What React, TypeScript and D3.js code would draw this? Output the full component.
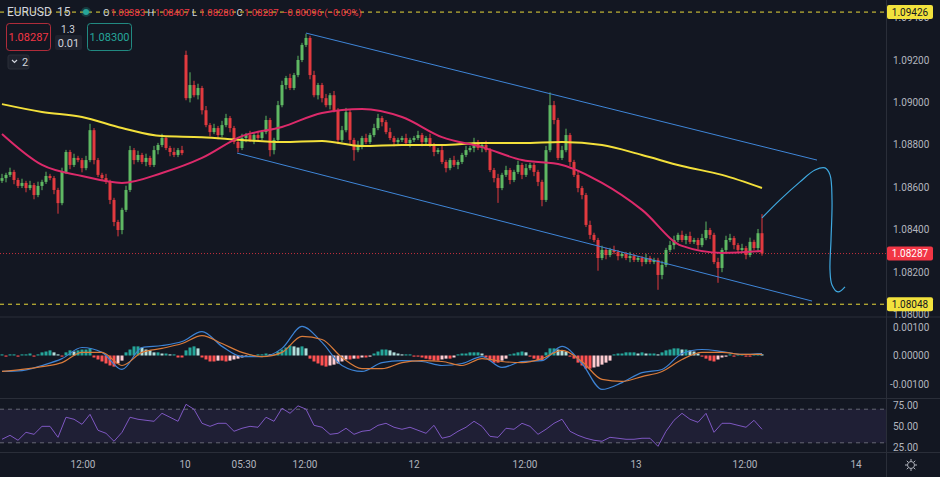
import { useEffect } from 'react'
import * as d3 from 'd3'

const W = 940
const H = 477
const PLOT_R = 886
const FONT = 'Roboto, "Liberation Sans", sans-serif'

// 15m EURUSD candles, one entry per bar (open = previous close unless a gap)
const CLOSE = [
  1.08643, 1.08658, 1.08672, 1.08634, 1.08606, 1.0862, 1.08596, 1.0861, 1.08563, 1.08606,
  1.08625, 1.08653, 1.08643, 1.08587, 1.08525, 1.08672, 1.08766, 1.08705, 1.08738, 1.08728,
  1.0869, 1.08728, 1.08869, 1.08728, 1.08658, 1.08643, 1.08625, 1.0854, 1.08436, 1.08398,
  1.08493, 1.08587, 1.08775, 1.08728, 1.08752, 1.08719, 1.08738, 1.08705, 1.08775, 1.08799,
  1.08832, 1.08785, 1.08766, 1.08752, 1.08775, 1.08761, 1.0902, 1.09082, 1.09034, 1.09068,
  1.08963, 1.08893, 1.0886, 1.08879, 1.08846, 1.08893, 1.08926, 1.08879, 1.08813, 1.08785,
  1.08832, 1.08846, 1.08823, 1.08846, 1.08832, 1.0886, 1.08917, 1.08775, 1.08823, 1.08987,
  1.09082, 1.09115, 1.09068, 1.09129, 1.092, 1.09271, 1.09304, 1.09129, 1.09034, 1.09082,
  1.0902, 1.08987, 1.09034, 1.08963, 1.08823, 1.08869, 1.08954, 1.08823, 1.08775, 1.08799,
  1.08832, 1.08813, 1.08846, 1.08879, 1.08926, 1.08907, 1.0886, 1.08832, 1.08813, 1.08823,
  1.08832, 1.08808, 1.08823, 1.08832, 1.08846, 1.08813, 1.08832, 1.08799, 1.08766, 1.08775,
  1.08719, 1.0869, 1.08728, 1.08705, 1.08719, 1.08752, 1.08775, 1.08785, 1.08813, 1.08785,
  1.08799, 1.08775, 1.08681, 1.08643, 1.08596, 1.08658, 1.08681, 1.08634, 1.08672, 1.08705,
  1.08658, 1.0869, 1.08705, 1.08672, 1.08625, 1.0854, 1.08775, 1.08987, 1.08917, 1.08738,
  1.08775, 1.08846, 1.08719, 1.08658, 1.08596, 1.08563, 1.08422, 1.08375, 1.08351, 1.08266,
  1.08304, 1.0828, 1.08304, 1.08294, 1.08275, 1.08285, 1.08266, 1.08275, 1.08257, 1.08266,
  1.08247, 1.08266, 1.08247, 1.08257, 1.08186, 1.08233, 1.08304, 1.08327, 1.08351, 1.08375,
  1.08351, 1.0837, 1.08342, 1.08351, 1.08327, 1.0836, 1.08398, 1.08375, 1.08247, 1.08219,
  1.08304, 1.08351, 1.0836, 1.08327, 1.08304, 1.08313, 1.0828, 1.08342, 1.08313, 1.08383,
  1.08287,
]
const FIRST_OPEN = 1.0863
const OPEN_GAP: Record<number, number> = { 46: 1.09224 }
// wick length beyond the body, in pips
const WICK_UP = [
  2, 1, 2, 1, 1, 2, 1, 2, 1, 2, 1, 2, 1, 1, 1, 2, 1, 1, 2, 1,
  1, 2, 3, 1, 1, 1, 2, 1, 1, 1, 1, 2, 2, 1, 2, 1, 2, 1, 2, 1,
  2, 1, 1, 2, 1, 2, 2, 6, 2, 2, 1, 2, 1, 2, 1, 2, 2, 1, 1, 1,
  2, 1, 2, 1, 2, 1, 2, 1, 1, 2, 2, 1, 2, 1, 2, 1, 2, 1, 2, 1,
  1, 2, 1, 2, 1, 2, 2, 1, 1, 2, 1, 2, 1, 2, 2, 1, 1, 2, 1, 1,
  1, 2, 1, 1, 2, 1, 1, 2, 1, 1, 2, 1, 1, 2, 1, 1, 2, 1, 2, 1,
  1, 2, 1, 1, 2, 1, 2, 1, 1, 2, 1, 2, 1, 1, 1, 1, 2, 6, 2, 1,
  2, 3, 1, 1, 2, 1, 1, 2, 1, 1, 2, 1, 1, 2, 1, 1, 1, 2, 1, 1,
  1, 2, 1, 1, 1, 2, 1, 2, 2, 1, 2, 1, 2, 1, 1, 2, 4, 1, 1, 2,
  1, 2, 2, 1, 1, 2, 1, 2, 1, 2, 9,
]
const WICK_DN = [
  1, 2, 1, 2, 1, 1, 2, 1, 2, 1, 2, 1, 1, 2, 5, 1, 1, 2, 1, 1,
  2, 1, 1, 2, 1, 1, 1, 2, 2, 3, 2, 1, 1, 2, 1, 1, 2, 1, 1, 2,
  1, 1, 2, 1, 1, 1, 1, 2, 1, 2, 2, 1, 2, 1, 2, 1, 1, 2, 1, 2,
  1, 2, 1, 2, 1, 1, 1, 3, 2, 1, 1, 2, 1, 1, 1, 1, 1, 2, 1, 2,
  2, 1, 2, 1, 2, 1, 1, 2, 5, 1, 2, 1, 1, 1, 1, 2, 1, 1, 2, 1,
  1, 1, 2, 1, 1, 2, 1, 1, 2, 1, 1, 2, 1, 1, 2, 1, 1, 1, 2, 1,
  2, 1, 1, 2, 7, 1, 1, 2, 1, 1, 2, 1, 1, 2, 2, 3, 1, 1, 2, 1,
  1, 1, 2, 1, 2, 2, 1, 2, 1, 6, 1, 2, 1, 1, 2, 1, 1, 2, 1, 1,
  2, 1, 1, 1, 7, 2, 1, 1, 2, 1, 1, 2, 1, 1, 2, 1, 1, 2, 1, 7,
  2, 1, 1, 2, 1, 1, 2, 1, 1, 2, 1,
]

// moving averages, one value every 10 bars
const MA_SLOW = [
  1.08992, 1.08955, 1.08931, 1.08879, 1.08841, 1.08836, 1.08823, 1.08813, 1.08818, 1.08794,
  1.08799, 1.08799, 1.08808, 1.08808, 1.08813, 1.08799, 1.08752, 1.087, 1.08658, 1.08596,
]
const MA_FAST = [
  1.08851, 1.08705, 1.08653, 1.0862, 1.08667, 1.08738, 1.08841, 1.08884, 1.0895, 1.08969,
  1.08931, 1.08836, 1.08789, 1.08728, 1.08705, 1.0862, 1.08493, 1.08323, 1.0829, 1.08299,
]

// MACD lines, one value every 5 bars
const MACD_LINE = [
  -0.00056, -0.00053, -0.00035, -0.00011, 0.00028, 0.00011, -0.00049, 0.00028, 0.00035, 0.00049,
  0.00084, 0.00032, -0.00004, -0.00004, 0.00025, 0.00102, 0.00046, -0.00035, -0.00056, -0.00025,
  -0.00018, -0.00021, -0.00035, -0.00028, -0.00004, -0.00042, -0.00021, -0.00018, 0.00032, -0.00028,
  -0.00119, -0.00095, -0.0006, -0.00049, 0.00007, 0.00021, 0.00014, 0.00004, 0.00007,
]
const MACD_SIGNAL = [
  -0.00056, -0.00049, -0.00039, -0.00025, 0.00011, 0.00011, -0.00035, 0.00011, 0.00025, 0.00042,
  0.0007, 0.00042, 0.00011, -0.00004, 0.00011, 0.00067, 0.00056, -0.00007, -0.00046, -0.00046,
  -0.00025, -0.00018, -0.00021, -0.00035, -0.00011, -0.00021, -0.00025, -0.00011, 0.00018, -0.00021,
  -0.00084, -0.00091, -0.00074, -0.00056, -0.00014, 0.00011, 0.00011, 0.00004, 0.00004,
]
// MACD histogram, one value per bar
const MACD_HIST = [
  0.00004, -0.00004, 0.00004, 0.00004, -0.00004, 0.00004, 0.00004, 0.00007, -0.00004, 0.00004,
  0.00011, 0.00014, 0.00018, 0.00011, 0.00004, -0.00004, 0.00011, 0.00018, 0.00014, 0.00018,
  0.00021, 0.00021, 0.00025, -0.00007, -0.00014, -0.00021, -0.00028, -0.00035, -0.00039, -0.00028,
  -0.00018, 0.00011, 0.00021, 0.00032, 0.00032, 0.00028, 0.00021, 0.00018, 0.00011, 0.00011,
  0.00007, 0.00007, 0.00004, 0.00004, -0.00007, -0.00007, 0.00018, 0.00028, 0.00032, 0.00025,
  -0.00007, -0.00014, -0.00021, -0.00021, -0.00018, -0.00018, -0.00021, -0.00018, -0.00014, -0.00011,
  -0.00007, -0.00004, 0.00004, -0.00004, 0.00004, 0.00004, 0.00007, 0.00004, 0.00004, 0.00014,
  0.00021, 0.00028, 0.00035, 0.00032, 0.00028, 0.00032, 0.00025, -0.00011, -0.00021, -0.00028,
  -0.00035, -0.00039, -0.00035, -0.00032, -0.00028, -0.00021, -0.00014, -0.00014, -0.00011, -0.00011,
  -0.00007, -0.00007, -0.00004, 0.00007, 0.00014, 0.00021, 0.00021, 0.00018, 0.00011, 0.00007,
  0.00004, 0.00004, 0.00004, -0.00004, -0.00004, -0.00007, -0.00011, -0.00014, -0.00018, -0.00018,
  -0.00014, -0.00011, -0.00011, -0.00007, 0.00004, 0.00007, 0.00007, 0.00011, 0.00011, 0.00011,
  0.00007, -0.00007, -0.00018, -0.00025, -0.00025, -0.00018, -0.00011, 0.00004, 0.00007, 0.00011,
  0.00014, 0.00011, -0.00004, -0.00011, -0.00018, -0.00018, 0.00011, 0.00025, 0.00025, 0.00021,
  0.00018, 0.00014, -0.00004, -0.00011, -0.00025, -0.00035, -0.00046, -0.00046, -0.00042, -0.00039,
  -0.00032, -0.00025, -0.00018, 0.00004, 0.00007, 0.00007, 0.00011, 0.00011, 0.00011, 0.00007,
  0.00011, 0.00007, 0.00007, 0.00007, 0.00004, 0.00011, 0.00018, 0.00021, 0.00025, 0.00025,
  0.00021, 0.00021, 0.00018, 0.00014, 0.00007, -0.00004, -0.00011, -0.00018, -0.00021, -0.00014,
  -0.00007, -0.00004, 0.00004, -0.00004, 0.00004, 0.00004, -0.00004, -0.00004, 0.00004, 0.00007,
  0.00004,
]
// RSI, one value every 2 bars
const RSI = [
  34.2, 38.9, 33.0, 42.5, 40.1, 49.6, 49.6, 36.5, 60.4, 58.0,
  52.0, 63.9, 44.9, 41.3, 31.8, 42.5, 60.4, 58.0, 56.8, 55.6,
  65.1, 60.4, 55.6, 75.8, 69.9, 53.2, 49.6, 53.2, 53.2, 43.7,
  47.3, 49.6, 48.5, 60.4, 55.6, 71.1, 65.1, 74.0, 70.0, 50.8,
  48.5, 40.1, 41.3, 47.3, 40.1, 43.7, 44.9, 50.8, 53.2, 48.5,
  46.1, 48.5, 44.9, 41.3, 50.8, 35.4, 37.7, 43.7, 48.5, 55.6,
  49.6, 37.7, 36.5, 47.3, 46.1, 53.2, 49.6, 40.1, 46.1, 53.2,
  58.0, 43.7, 38.9, 35.4, 33.0, 31.8, 36.5, 35.4, 34.2, 34.2,
  35.4, 35.4, 25.8, 43.7, 56.8, 65.1, 58.0, 54.4, 65.1, 42.5,
  53.2, 53.2, 50.8, 48.5, 56.8, 46.1,
]

// drawings (bar index, price)
const CHANNEL_UP: [number, number][] = [[76, 1.09327], [203.75, 1.08728]]
const CHANNEL_DN: [number, number][] = [[58.75, 1.08761], [202.5, 1.08063]]
const PATH_BARS = [190, 194.5, 199.5, 203.25, 205.75, 207, 207.5, 207.25, 207, 207.5, 209, 210.75]
const PATH_PRICES = [1.08455, 1.0854, 1.08625, 1.08681, 1.08691, 1.08658, 1.0854, 1.08351, 1.08209, 1.08139, 1.08106, 1.0813]

const HI_LINE = 1.09426
const LO_LINE = 1.08048
const LAST = 1.08287
const BID = '1.08287'
const ASK = '1.08300'

const PRICE_TICKS = [1.08, 1.082, 1.084, 1.086, 1.088, 1.09, 1.092, 1.094]
const MACD_TICKS = [0.001, 0, -0.001]
const RSI_TICKS = [75, 50, 25]
const RSI_BANDS = [70, 30]
const TIME_BARS = [20.25, 45.75, 60.5, 75.75, 103, 130.75, 158.5, 185.75, 213.5]
const TIME_LABELS = ['12:00', '10', '05:30', '12:00', '12', '12:00', '13', '12:00', '14']
const OHLC_LABELS = ['O', 'H', 'L', 'C']
const OHLC_VALUES = ['1.08383', '1.08407', '1.08280', '1.08287']
const OHLC_X = [103, 147.5, 192, 236.5]

const UP = '#5fb863'
const DOWN = '#e23a3f'
const GRID = '#2a2e39'
const TXT = '#b2b5be'

export default function App() {
  useEffect(() => {
    document.body.style.margin = '0'
    document.body.style.background = '#131722'
  }, [])

  const x = d3.scaleLinear().domain([0, 190]).range([2, 762])
  const yP = d3.scaleLinear().domain([1.082, 1.092]).range([272, 60])
  const yM = d3.scaleLinear().domain([-0.001, 0.001]).range([384, 327])
  const yR = d3.scaleLinear().domain([25, 75]).range([447, 405])

  const candles = CLOSE.map((c, i) => {
    const o = OPEN_GAP[i] ?? (i === 0 ? FIRST_OPEN : CLOSE[i - 1])
    return {
      i,
      o,
      c,
      h: Math.max(o, c) + WICK_UP[i] * 0.0001,
      l: Math.min(o, c) - WICK_DN[i] * 0.0001,
    }
  })

  const maLine = d3
    .line<number>()
    .x((_, k) => x(k * 10))
    .y((d) => yP(d))
    .curve(d3.curveMonotoneX)
  const macdLine = d3
    .line<number>()
    .x((_, k) => x(k * 5))
    .y((d) => yM(d))
    .curve(d3.curveMonotoneX)
  const rsiLine = d3
    .line<number>()
    .x((_, k) => x(k * 2))
    .y((d) => yR(d))
  const freeLine = d3
    .line<number>()
    .x((_, k) => x(PATH_BARS[k]))
    .y((d) => yP(d))
    .curve(d3.curveCatmullRom)

  const histColor = (v: number, i: number) => {
    const prev = i > 0 ? MACD_HIST[i - 1] : v
    if (v >= 0) return v >= prev ? '#26a69a' : '#b2dfdb'
    return v <= prev ? '#ff5252' : '#ffcdd2'
  }

  const priceBox = (v: number, fill: string, color: string) => (
    <g key={'pb' + v}>
      <rect x={887} y={yP(v) - 7} width={46} height={14} rx={2} fill={fill} />
      <text x={910} y={yP(v) + 3.5} textAnchor="middle" fontSize={10} fill={color}>
        {v.toFixed(5)}
      </text>
    </g>
  )

  return (
    <svg width={W} height={H} style={{ display: 'block', background: '#131722' }} fontFamily={FONT}>
      <defs>
        <clipPath id="main">
          <rect x={0} y={0} width={PLOT_R} height={316} />
        </clipPath>
        <clipPath id="macd">
          <rect x={0} y={318} width={PLOT_R} height={80} />
        </clipPath>
        <clipPath id="rsi">
          <rect x={0} y={399} width={PLOT_R} height={53} />
        </clipPath>
      </defs>

      {/* pane separators */}
      <line x1={0} x2={W} y1={317} y2={317} stroke={GRID} />
      <line x1={0} x2={W} y1={398.5} y2={398.5} stroke={GRID} />
      <line x1={0} x2={W} y1={452.5} y2={452.5} stroke={GRID} />
      <line x1={PLOT_R + 0.5} x2={PLOT_R + 0.5} y1={0} y2={H} stroke={GRID} />

      <g clipPath="url(#main)">
        {/* high / low reference lines */}
        <line x1={0} x2={PLOT_R} y1={yP(HI_LINE)} y2={yP(HI_LINE)} stroke="#e8d93a" strokeDasharray="4 4" />
        <line x1={0} x2={PLOT_R} y1={yP(LO_LINE)} y2={yP(LO_LINE)} stroke="#e8d93a" strokeDasharray="4 4" />
        <line x1={0} x2={PLOT_R} y1={yP(LAST)} y2={yP(LAST)} stroke="#f23645" strokeDasharray="1 2" opacity={0.8} />

        {/* candles */}
        {candles.map((d) => {
          const col = d.c >= d.o ? UP : DOWN
          const top = yP(Math.max(d.o, d.c))
          const bot = yP(Math.min(d.o, d.c))
          return (
            <g key={d.i}>
              <line x1={x(d.i)} x2={x(d.i)} y1={yP(d.h)} y2={yP(d.l)} stroke={col} strokeWidth={1} />
              <rect x={x(d.i) - 1.5} y={top} width={3} height={Math.max(1, bot - top)} fill={col} />
            </g>
          )
        })}

        <path d={maLine(MA_SLOW) ?? ''} fill="none" stroke="#f3e03b" strokeWidth={2} />
        <path d={maLine(MA_FAST) ?? ''} fill="none" stroke="#dc2a6a" strokeWidth={2} />

        {/* channel */}
        <line
          x1={x(CHANNEL_UP[0][0])} y1={yP(CHANNEL_UP[0][1])}
          x2={x(CHANNEL_UP[1][0])} y2={yP(CHANNEL_UP[1][1])}
          stroke="#3f86d8" strokeWidth={1}
        />
        <line
          x1={x(CHANNEL_DN[0][0])} y1={yP(CHANNEL_DN[0][1])}
          x2={x(CHANNEL_DN[1][0])} y2={yP(CHANNEL_DN[1][1])}
          stroke="#3f86d8" strokeWidth={1}
        />
        <path d={freeLine(PATH_PRICES) ?? ''} fill="none" stroke="#3fa9e0" strokeWidth={1.2} />
      </g>

      {/* MACD pane */}
      <g clipPath="url(#macd)">
        {MACD_HIST.map((v, i) => (
          <rect
            key={i}
            x={x(i) - 1.5}
            y={Math.min(yM(v), yM(0))}
            width={3}
            height={Math.max(1, Math.abs(yM(v) - yM(0)))}
            fill={histColor(v, i)}
          />
        ))}
        <path d={macdLine(MACD_LINE) ?? ''} fill="none" stroke="#3d83d4" strokeWidth={1.2} />
        <path d={macdLine(MACD_SIGNAL) ?? ''} fill="none" stroke="#d97b3a" strokeWidth={1.2} />
      </g>

      {/* RSI pane */}
      <g clipPath="url(#rsi)">
        <rect
          x={0}
          y={yR(RSI_BANDS[0])}
          width={PLOT_R}
          height={yR(RSI_BANDS[1]) - yR(RSI_BANDS[0])}
          fill="rgba(126,87,194,0.12)"
        />
        {RSI_BANDS.map((b) => (
          <line key={b} x1={0} x2={PLOT_R} y1={yR(b)} y2={yR(b)} stroke="#787b86" strokeDasharray="4 4" opacity={0.8} />
        ))}
        <path d={rsiLine(RSI) ?? ''} fill="none" stroke="#7e57c2" strokeWidth={1} />
      </g>

      {/* right axis */}
      <g fontSize={10} fill={TXT}>
        {PRICE_TICKS.map((t) => (
          <text key={t} x={893} y={yP(t) + 3.5}>{t.toFixed(5)}</text>
        ))}
        {MACD_TICKS.map((t) => (
          <text key={t} x={t < 0 ? 890 : 893} y={yM(t) + 3.5}>{t.toFixed(5)}</text>
        ))}
        {RSI_TICKS.map((t) => (
          <text key={t} x={893} y={yR(t) + 3.5}>{t.toFixed(2)}</text>
        ))}
      </g>
      {priceBox(HI_LINE, '#f2e23d', '#131722')}
      {priceBox(LO_LINE, '#f2e23d', '#131722')}
      {priceBox(LAST, '#f23645', '#ffffff')}

      {/* time axis */}
      <g fontSize={10} fill={TXT} textAnchor="middle">
        {TIME_BARS.map((b, k) => (
          <text key={k} x={x(b)} y={468}>{TIME_LABELS[k]}</text>
        ))}
      </g>
      <g transform="translate(911,465)" stroke={TXT} fill="none" strokeWidth={1}>
        <circle r={3.5} />
        {d3.range(8).map((k) => {
          const a = (k * Math.PI) / 4
          return <line key={k} x1={Math.cos(a) * 4} y1={Math.sin(a) * 4} x2={Math.cos(a) * 6} y2={Math.sin(a) * 6} />
        })}
      </g>

      {/* legend header */}
      <g fontSize={12} fill="#d1d4dc">
        <text x={7} y={16}>EURUSD</text>
        <text x={57} y={16}>15</text>
        <circle cx={86} cy={12} r={5} fill="rgba(38,166,154,0.25)" />
        <circle cx={86} cy={12} r={3} fill="#26a69a" />
        {OHLC_LABELS.map((l, k) => (
          <g key={l} fontSize={9.5}>
            <text x={OHLC_X[k]} y={16} fill="#d1d4dc">{l}</text>
            <text x={OHLC_X[k] + 7.5} y={16} fill="#f23645">{OHLC_VALUES[k]}</text>
          </g>
        ))}
        <text x={282} y={16} fontSize={9.5} fill="#f23645">−0.00096 (−0.09%)</text>
      </g>
      <g fontSize={11}>
        <rect x={6.5} y={23.5} width={44} height={27} rx={3} fill="#131722" stroke="#f23645" strokeOpacity={0.7} />
        <text x={28.5} y={41} textAnchor="middle" fill="#f23645">{BID}</text>
        <text x={68} y={33} textAnchor="middle" fontSize={10} fill="#d1d4dc">1.3</text>
        <rect x={55} y={35} width={27} height={15} rx={2} fill="#1e222d" />
        <text x={68.5} y={46.5} textAnchor="middle" fill="#d1d4dc">0.01</text>
        <rect x={87.5} y={23.5} width={44} height={27} rx={3} fill="#131722" stroke="#26a69a" strokeOpacity={0.8} />
        <text x={109.5} y={41} textAnchor="middle" fill="#26a69a">{ASK}</text>
        <rect x={8} y={55} width={21} height={14} rx={2} fill="#1e222d" stroke="#2a2e39" />
        <path d="M12 60 L14.5 62.5 L17 60" fill="none" stroke="#d1d4dc" strokeWidth={1.2} />
        <text x={22} y={66} fontSize={11} fill="#d1d4dc">2</text>
      </g>
    </svg>
  )
}
